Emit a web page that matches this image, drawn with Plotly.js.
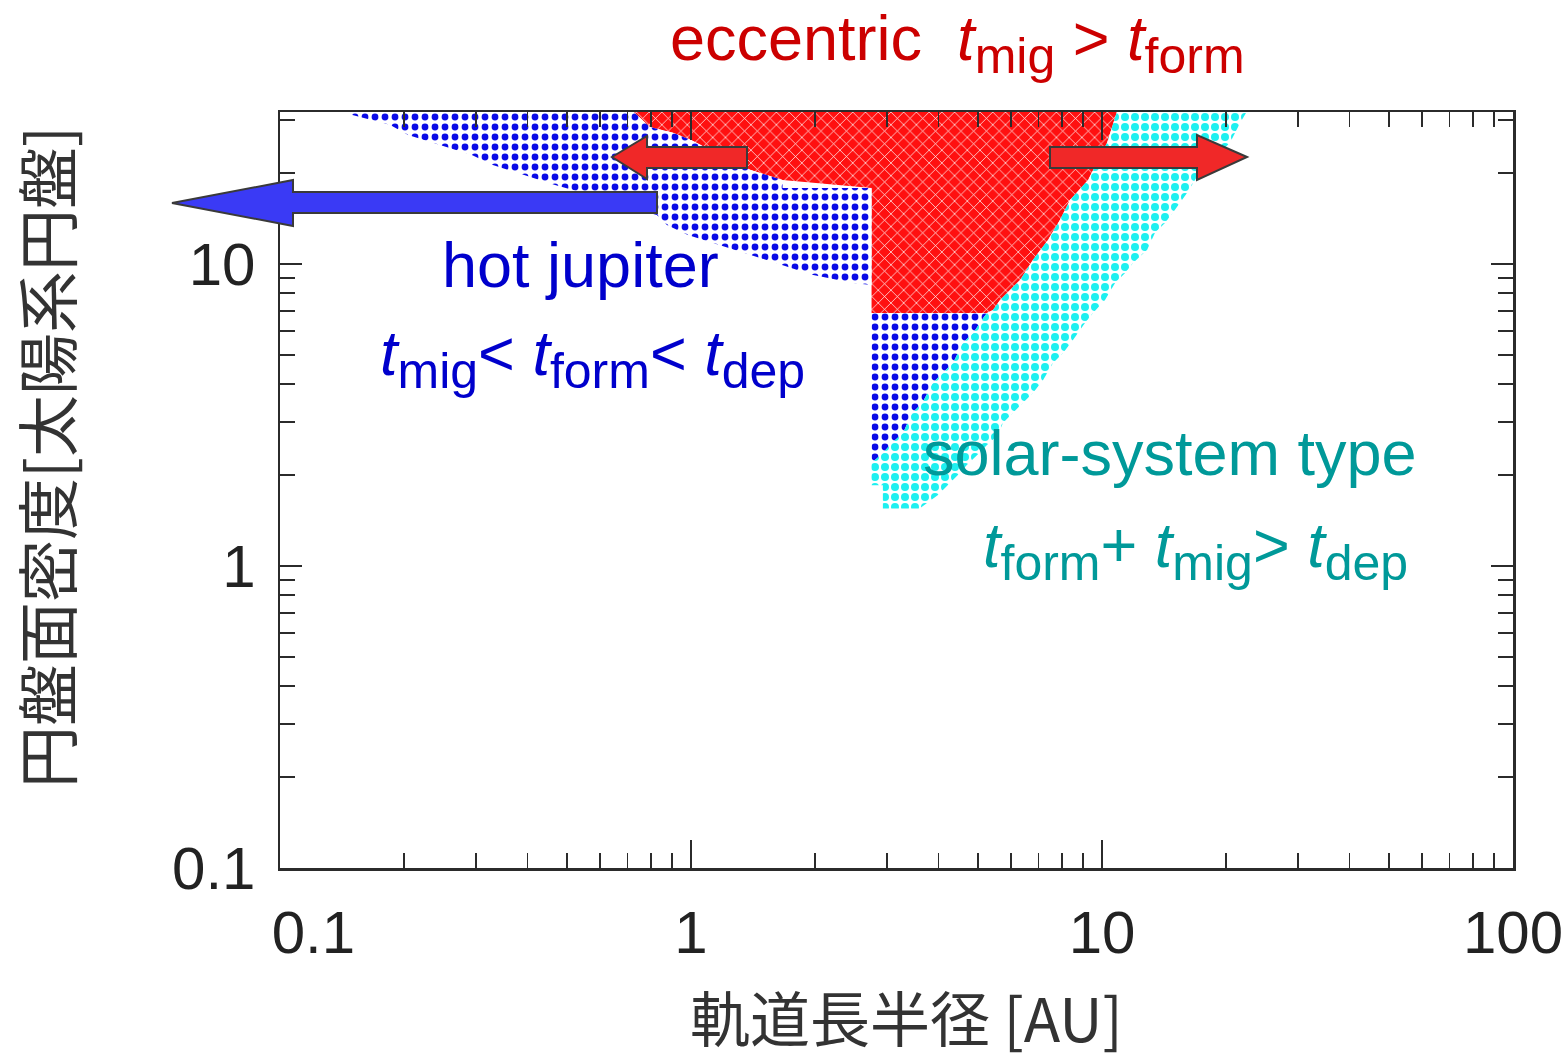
<!DOCTYPE html>
<html>
<head>
<meta charset="utf-8">
<script src="https://cdn.plot.ly/plotly-3.0.1.min.js"></script>
<style>html,body{margin:0;padding:0;background:#fff;}#chart{width:1567px;height:1061px;}</style>
</head>
<body>
<div id="chart"></div>
<script>
// ---- data ----
const eccX = [0.723, 10.88, 10.29, 9.25, 8.36, 7.90, 7.39, 6.79, 6.32, 5.65, 5.43, 5.25, 2.75, 2.75, 1.67, 1.392, 1.177, 1.0, 0.904, 0.794, 0.723];
const eccY = [32, 32, 25.2, 18.97, 16.29, 13.99, 12.01, 10.31, 8.85, 7.6, 7.04, 6.88, 6.88, 17.85, 18.97, 20.5, 22.96, 25.7, 27.2, 28.4, 32];

const hotX = [0.15, 0.723, 0.794, 0.904, 1.0, 1.177, 1.392, 1.67, 1.67, 2.75, 2.75, 2.48, 1.97, 1.665, 1.392, 1.163, 0.983, 0.874, 0.826, 0.671, 0.567, 0.467, 0.39, 0.328, 0.293, 0.245, 0.205, 0.185, 0.15];
const hotY = [32, 32, 28.4, 27.2, 25.7, 22.96, 20.5, 18.97, 17.85, 17.85, 8.52, 8.65, 9.2, 9.92, 10.71, 11.56, 12.47, 13.46, 14.53, 15.68, 16.93, 18.26, 19.7, 21.3, 22.96, 24.8, 26.7, 28.9, 31.1];

const hotLowX = [2.75, 5.25, 5.14, 4.86, 4.59, 4.34, 4.10, 3.88, 3.65, 3.45, 3.28, 3.08, 2.93, 2.75];
const hotLowY = [6.88, 6.88, 6.62, 5.91, 5.48, 4.70, 4.36, 4.04, 3.46, 3.21, 2.757, 2.555, 2.367, 2.193];

const solarX = [10.88, 22.53, 21.67, 20.49, 17.32, 16.10, 15.05, 14.23, 13.45, 12.87, 11.9, 11.38, 10.76, 10.17, 9.51, 9.09, 8.50, 8.04, 7.60, 7.19, 6.79, 6.42, 6.07, 5.74, 5.58, 5.25, 4.97, 4.69, 4.46, 4.22, 3.99, 3.6, 2.93, 2.93, 2.75, 2.75, 2.93, 3.08, 3.28, 3.45, 3.65, 3.88, 4.10, 4.34, 4.59, 4.86, 5.14, 5.25, 5.43, 5.65, 6.32, 6.79, 7.39, 7.90, 8.36, 9.25, 10.29];
const solarY = [32, 32, 29.3, 25.2, 20.2, 17.18, 15.1, 13.67, 12.67, 11.13, 10.08, 9.34, 8.65, 7.6, 6.88, 6.38, 5.60, 5.07, 4.70, 4.13, 3.74, 3.46, 3.21, 2.975, 2.715, 2.517, 2.331, 2.16, 2.00, 1.854, 1.718, 1.55, 1.55, 1.85, 1.85, 2.193, 2.367, 2.555, 2.757, 3.21, 3.46, 4.04, 4.36, 4.70, 5.48, 5.91, 6.62, 6.88, 7.04, 7.6, 8.85, 10.31, 12.01, 13.99, 16.29, 18.97, 25.2];

const xTickVals = [0.1, 1, 10, 100];
const xTickText = ['\u00a0\u00a0\u00a0\u00a00.1', '1', '10', '100'];
const yTickVals = [0.1, 1, 10];
const yTickText = ['0.1', '1', '10'];

const xTitle = '軌道長半径 [AU]';
const yTitle = '円盤面密度[太陽系円盤]';
const sub = s => '<sub><span style="font-size:50px">' + s + '</span></sub>';
const labelEcc = 'eccentric&nbsp;&nbsp;<i>t</i>' + sub('mig') + ' &gt; <i>t</i>' + sub('form');
const labelHot = 'hot jupiter';
const labelHotCond = '<i>t</i>' + sub('mig') + '&lt; <i>t</i>' + sub('form') + '&lt; <i>t</i>' + sub('dep');
const labelSolar = 'solar-system type';
const labelSolarCond = '<i>t</i>' + sub('form') + '+ <i>t</i>' + sub('mig') + '&gt; <i>t</i>' + sub('dep');

// ---- layout helpers (plot area in pixels) ----
const W = 1567, H = 1061, PL = 280, PR = 1513, PT = 112, PB = 868;
const px = x => (x - PL) / (PR - PL);
const py = y => (PB - y) / (PB - PT);
function arrowPath(pts) {
  return 'M ' + pts.map(p => px(p[0]).toFixed(5) + ',' + py(p[1]).toFixed(5)).join(' L ') + ' Z';
}
const FONT = 'Liberation Sans, Arial, Helvetica, sans-serif';
const CJK = 'Noto Sans CJK JP, Noto Sans CJK SC, sans-serif';
const AX = '#2b2b2b';

function region(x, y, pattern) {
  return {
    type: 'scatter', mode: 'lines', x: x, y: y, fill: 'toself',
    line: {width: 0, color: 'rgba(0,0,0,0)'},
    fillcolor: pattern.bgcolor,
    fillpattern: pattern, hoverinfo: 'skip', showlegend: false
  };
}

const traces = [
  region(eccX, eccY, {shape: 'x', bgcolor: '#ff1010', fgcolor: '#ffffff', size: 9, solidity: 0.15}),
  region(hotX, hotY, {shape: '.', bgcolor: '#ffffff', fgcolor: '#0a0ae6', size: 10, solidity: 0.36}),
  region(hotLowX, hotLowY, {shape: '.', bgcolor: '#ffffff', fgcolor: '#0a0ae6', size: 10, solidity: 0.36}),
  region(solarX, solarY, {shape: '.', bgcolor: '#ffffff', fgcolor: '#1ef0f0', size: 10, solidity: 0.5})
];

const arrowLine = {color: '#3a3a3a', width: 2};
const shapes = [
  {type: 'path', xref: 'paper', yref: 'paper', layer: 'above', fillcolor: '#3a3af5', line: arrowLine,
   path: arrowPath([[172,203],[293,180],[293,192],[657,192],[657,213],[293,213],[293,226]])},
  {type: 'path', xref: 'paper', yref: 'paper', layer: 'above', fillcolor: '#f02828', line: arrowLine,
   path: arrowPath([[612,157],[647,136],[647,147],[747,147],[747,168],[647,168],[647,179]])},
  {type: 'path', xref: 'paper', yref: 'paper', layer: 'above', fillcolor: '#f02828', line: arrowLine,
   path: arrowPath([[1247,157],[1197,135],[1197,147],[1050,147],[1050,168],[1197,168],[1197,180]])}
];

function ann(text, x, y, color, size, extra) {
  return Object.assign({
    text: text, xref: 'paper', yref: 'paper', x: px(x), y: py(y),
    showarrow: false, font: {family: FONT, size: size, color: color},
    xanchor: 'center', yanchor: 'middle'
  }, extra || {});
}

const annotations = [
  ann(labelEcc, 668, 44, '#cc0000', 63, {xanchor: 'left'}),
  ann(labelHot, 580, 265, '#0000cc', 63),
  ann(labelHotCond, 592, 358, '#0000cc', 63),
  ann(labelSolar, 1170, 453, '#009999', 63),
  ann(labelSolarCond, 1195, 550, '#009999', 63),
  {text: xTitle, xref: 'paper', yref: 'paper', x: px(906), y: py(1015), showarrow: false,
   font: {family: CJK, size: 60, color: '#333333'}, xanchor: 'center', yanchor: 'middle'},
  {text: yTitle, xref: 'paper', yref: 'paper', x: px(45), y: py(457), showarrow: false, textangle: -90,
   font: {family: CJK, size: 62, color: '#333333'}, xanchor: 'center', yanchor: 'middle'}
];

const axisCommon = {
  type: 'log', showgrid: false, zeroline: false, showline: true, linecolor: AX, linewidth: 2.5,
  mirror: 'ticks', ticks: 'inside', ticklen: 28, tickwidth: 2, tickcolor: AX,
  tickfont: {family: FONT, size: 60, color: '#222222'},
  minor: {ticks: 'inside', ticklen: 15, tickwidth: 1.6, tickcolor: AX, dtick: 'D1', showgrid: false}
};

const layout = {
  width: W, height: H,
  margin: {l: PL, r: W - PR, t: PT, b: H - PB, pad: 0},
  paper_bgcolor: '#ffffff', plot_bgcolor: '#ffffff',
  showlegend: false,
  xaxis: Object.assign({}, axisCommon, {range: [-1, 2], tickmode: 'array', tickvals: xTickVals, ticktext: xTickText, ticklabelstandoff: 10}),
  yaxis: Object.assign({}, axisCommon, {range: [-1, 1.503], tickmode: 'array', tickvals: yTickVals, ticktext: yTickText, ticklen: 22, ticklabelstandoff: 10}),
  shapes: shapes,
  annotations: annotations
};

Plotly.newPlot('chart', traces, layout, {displayModeBar: false, staticPlot: true});
</script>
</body>
</html>
